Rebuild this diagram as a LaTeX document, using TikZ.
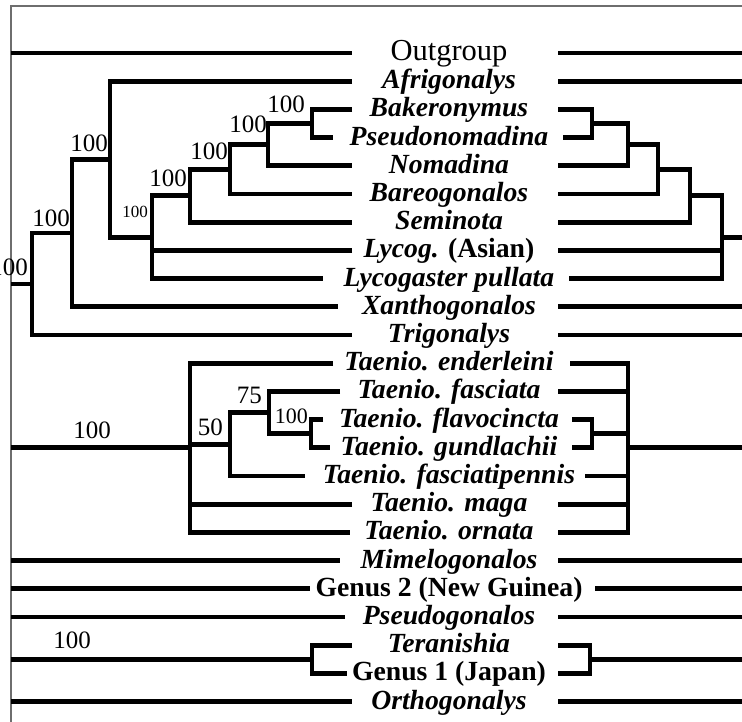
\documentclass[tikz,border=0pt]{standalone}
\usepackage{fontspec}
\setmainfont{Liberation Serif}
\usepackage{xcolor}
\definecolor{framegray}{RGB}{110,110,110}
\usepackage{tikz}
\usetikzlibrary{calc}

\tikzset{
  branch/.style={line width=4.8pt},
  taxon/.style={font=\fontsize{27.7}{28}\selectfont\bfseries\itshape, anchor=base, inner sep=0pt},
  genus/.style={font=\fontsize{27.7}{28}\selectfont\bfseries, anchor=base, inner sep=0pt},
  outg/.style={font=\fontsize{30.5}{31}\selectfont, anchor=base, inner sep=0pt},
  boot/.style={font=\fontsize{25}{25}\selectfont, anchor=base east, inner sep=0pt},
}

\begin{document}
\begin{tikzpicture}[x=1pt, y=-1pt]
  \useasboundingbox (0,0) rectangle (742,722);
  \clip (0,0) rectangle (742,722);
  % frame
  \draw[framegray, line width=1.5pt] (742,6) -- (11,6) -- (11,722);
  % taxa: row / name / style / text / left tip / right tip
  \foreach \i/\nm/\sty/\txt/\lx/\rx in {
      0/out/outg/{Outgroup}/352/558,
      1/afr/taxon/{Afrigonalys}/352/558,
      2/bak/taxon/{Bakeronymus}/352/558,
      3/pse/taxon/{Pseudonomadina}/333/563,
      4/nom/taxon/{Nomadina}/352/558,
      5/bar/taxon/{Bareogonalos}/352/558,
      6/sem/taxon/{Seminota}/352/558,
      7/lya/genus/{\textit{Lycog.} (Asian)}/352/558,
      8/lyp/taxon/{Lycogaster pullata}/323/569,
      9/xan/taxon/{Xanthogonalos}/338/558,
      10/tri/taxon/{Trigonalys}/352/558,
      11/end/taxon/{Taenio. enderleini}/333/570,
      12/fas/taxon/{Taenio. fasciata}/340/558,
      13/fla/taxon/{Taenio. flavocincta}/323/572,
      14/gun/taxon/{Taenio. gundlachii}/330/572,
      15/fsp/taxon/{Taenio. fasciatipennis}/305/585,
      16/mag/taxon/{Taenio. maga}/352/558,
      17/orn/taxon/{Taenio. ornata}/350/558,
      18/mim/taxon/{Mimelogonalos}/340/558,
      19/gng/genus/{Genus 2 (New Guinea)}/310/595,
      20/psg/taxon/{Pseudogonalos}/345/558,
      21/ter/taxon/{Teranishia}/352/558,
      22/gjp/genus/{Genus 1 (Japan)}/347/558,
      23/ort/taxon/{Orthogonalys}/352/558}{
    \pgfmathsetmacro\yy{53+28.2*\i}
    \node[\sty] (\nm) at (449,\yy+7.5) {\txt};
    \coordinate (\nm-l) at (\lx,\yy);
    \coordinate (\nm-r) at (\rx,\yy);
    \coordinate (\nm-L) at (11,\yy);
    \coordinate (\nm-R) at (742,\yy);
  }

  % left tree, upper clade
  \coordinate (g) at (312,123.5);
  \coordinate (f) at (268,144.6);
  \coordinate (e) at (230,169.3);
  \coordinate (d) at (190,195.8);
  \coordinate (c) at (152,237.2);
  \coordinate (b) at (110,159.2);
  \coordinate (a) at (72,233);
  \coordinate (r) at (32,284);
  \coordinate (r0) at (11,284);
  \draw[branch] (bak-l) -| (g) |- (pse-l);
  \draw[branch] (g) -| (f) |- (nom-l);
  \draw[branch] (f) -| (e) |- (bar-l);
  \draw[branch] (e) -| (d) |- (sem-l);
  \draw[branch] (d) -| (c) |- (lyp-l);
  \draw[branch] (lya-l) -- (lya-l -| c);
  \draw[branch] (afr-l) -| (b) |- (c);
  \draw[branch] (b) -| (a) |- (xan-l);
  \draw[branch] (a) -| (r) |- (tri-l);
  \draw[branch] (r0) -- (r);
  \draw[branch] (out-L) -- (out-l);
  \node[boot] (bs-r) at (28,276) {100};
  \node[boot] (bs-a) at (70,227) {100};
  \node[boot] (bs-b) at (108,152) {100};
  \node[boot, font=\fontsize{17}{17}\selectfont] (bs-c) at (148,218) {100};
  \node[boot] (bs-d) at (187,187) {100};
  \node[boot] (bs-e) at (228,160) {100};
  \node[boot] (bs-f) at (267,133) {100};
  \node[boot] (bs-g) at (305,113) {100};

  % left tree, Taeniogonalos
  \coordinate (w) at (311,433.7);
  \coordinate (v) at (269,412.6);
  \coordinate (u) at (230,444.3);
  \coordinate (t) at (190,447.8);
  \coordinate (t0) at (11,447.8);
  \draw[branch] (fla-l) -| (w) |- (gun-l);
  \draw[branch] (fas-l) -| (v) |- (w);
  \draw[branch] (v) -| (u) |- (fsp-l);
  \draw[branch] (end-l) -| (t) |- (orn-l);
  \draw[branch] (u) -- (u -| t);
  \draw[branch] (mag-l) -- (mag-l -| t);
  \draw[branch] (t0) -- (t);
  \node[boot, anchor=base] (bs-t) at (92,438) {100};
  \node[boot] (bs-u) at (223,435) {50};
  \node[boot] (bs-v) at (262,403) {75};
  \node[boot, font=\fontsize{22}{22}\selectfont] (bs-w) at (308,423) {100};

  % left tree, remaining taxa
  \coordinate (k) at (312,659.3);
  \coordinate (k0) at (11,659.3);
  \draw[branch] (mim-L) -- (mim-l);
  \draw[branch] (gng-L) -- (gng-l);
  \draw[branch] (psg-L) -- (psg-l);
  \draw[branch] (ter-l) -| (k) |- (gjp-l);
  \draw[branch] (k0) -- (k);
  \draw[branch] (ort-L) -- (ort-l);
  \node[boot, anchor=base] (bs-k) at (72,648) {100};

  % right tree
  \coordinate (G) at (592,123.5);
  \coordinate (F) at (628,144.6);
  \coordinate (E) at (658,169.3);
  \coordinate (D) at (690,195.8);
  \coordinate (C) at (722,237.2);
  \coordinate (C0) at (742,237.2);
  \draw[branch] (out-r) -- (out-R);
  \draw[branch] (afr-r) -- (afr-R);
  \draw[branch] (bak-r) -| (G) |- (pse-r);
  \draw[branch] (G) -| (F) |- (nom-r);
  \draw[branch] (F) -| (E) |- (bar-r);
  \draw[branch] (E) -| (D) |- (sem-r);
  \draw[branch] (D) -| (C) |- (lyp-r);
  \draw[branch] (lya-r) -- (lya-r -| C);
  \draw[branch] (C) -- (C0);
  \draw[branch] (xan-r) -- (xan-R);
  \draw[branch] (tri-r) -- (tri-R);
  % right tree, Taeniogonalos
  \coordinate (W) at (592,433.7);
  \coordinate (T) at (628,447.8);
  \coordinate (T0) at (742,447.8);
  \draw[branch] (fla-r) -| (W) |- (gun-r);
  \draw[branch] (end-r) -| (T) |- (orn-r);
  \draw[branch] (fas-r) -- (fas-r -| T);
  \draw[branch] (W) -- (W -| T);
  \draw[branch] (fsp-r) -- (fsp-r -| T);
  \draw[branch] (mag-r) -- (mag-r -| T);
  \draw[branch] (T) -- (T0);
  % right tree, remaining taxa
  \coordinate (K) at (590,659.3);
  \coordinate (K0) at (742,659.3);
  \draw[branch] (mim-r) -- (mim-R);
  \draw[branch] (gng-r) -- (gng-R);
  \draw[branch] (psg-r) -- (psg-R);
  \draw[branch] (ter-r) -| (K) |- (gjp-r);
  \draw[branch] (K) -- (K0);
  \draw[branch] (ort-r) -- (ort-R);
\end{tikzpicture}
\end{document}
